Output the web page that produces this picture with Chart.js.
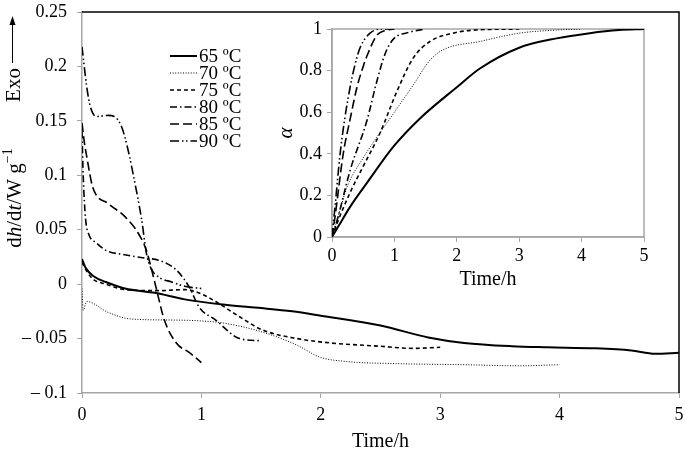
<!DOCTYPE html>
<html lang="en">
<head>
    <meta charset="UTF-8">
    <title>Heat flow and degree of hydration</title>
    <script src="https://cdn.jsdelivr.net/npm/chart.js@4.4.0/dist/chart.umd.min.js"></script>
    <style>
        body { margin: 0; background: #fff; }
        #wrap { position: relative; width: 685px; height: 455px; }
        #main { position: absolute; left: 0; top: 0; }
        #inset { position: absolute; left: 280px; top: 12px; }
    </style>
</head>
<body>
<div id="wrap">
    <canvas id="main" width="685" height="455"></canvas>
    <canvas id="inset" width="400" height="280"></canvas>
</div>
<script>
// series names
const temps = ['65 ºC', '70 ºC', '75 ºC', '80 ºC', '85 ºC', '90 ºC'];

// heat flow (main plot): time in h, dh/dt in W/g
const t65 = [0, 0.03, 0.1, 0.2, 0.36, 0.61, 0.86, 1.2, 1.5, 1.76, 2.0, 2.5, 2.9, 3.2, 3.6, 3.9, 4.3, 4.6, 4.8, 5.0];
const q65 = [0.023, 0.015, 0.007, 0.002, -0.004, -0.008, -0.014, -0.019, -0.022, -0.025, -0.029, -0.038, -0.049, -0.054, -0.057, -0.058, -0.059, -0.061, -0.064, -0.063];
const t70 = [0, 0.01, 0.04, 0.22, 0.41, 0.78, 1.03, 1.2, 1.51, 1.8, 1.99, 2.21, 2.63, 3.19, 3.67, 4.0];
const q70 = [-0.004, -0.024, -0.016, -0.026, -0.032, -0.033, -0.034, -0.036, -0.044, -0.056, -0.067, -0.071, -0.073, -0.074, -0.075, -0.074];
const t75 = [0, 0.05, 0.1, 0.2, 0.36, 0.64, 0.86, 1.0, 1.12, 1.32, 1.51, 1.8, 2.08, 2.49, 2.77, 3.0];
const q75 = [0.02, 0.01, 0.004, 0.0, -0.005, -0.006, -0.005, -0.009, -0.016, -0.03, -0.042, -0.05, -0.054, -0.057, -0.059, -0.058];
const t80 = [0, 0.01, 0.03, 0.06, 0.12, 0.2, 0.36, 0.52, 0.64, 0.79, 0.9, 0.98, 1.12, 1.32, 1.5];
const q80 = [0.14, 0.1, 0.06, 0.045, 0.038, 0.031, 0.027, 0.024, 0.022, 0.013, -0.003, -0.021, -0.033, -0.05, -0.052];
const t85 = [0, 0.02, 0.04, 0.09, 0.22, 0.36, 0.47, 0.54, 0.57, 0.62, 0.69, 0.79, 0.9, 1.0];
const q85 = [0.148, 0.13, 0.117, 0.089, 0.074, 0.062, 0.047, 0.031, 0.019, -0.003, -0.033, -0.054, -0.063, -0.072];
const t90 = [0, 0.04, 0.07, 0.12, 0.22, 0.27, 0.33, 0.38, 0.45, 0.5, 0.54, 0.58, 0.65, 0.75, 0.86, 1.0];
const q90 = [0.218, 0.181, 0.163, 0.154, 0.155, 0.154, 0.145, 0.126, 0.089, 0.059, 0.028, 0.014, 0.006, 0.002, -0.002, -0.004];

// degree of hydration (inset): time in h, alpha
const ta65 = [0, 0.1, 0.29, 0.56, 1.0, 1.41, 2.0, 2.37, 3.0, 3.6, 4.13, 4.6, 5.0];
const a65 = [0, 0.05, 0.145, 0.26, 0.44, 0.57, 0.72, 0.81, 0.91, 0.955, 0.98, 0.995, 1.0];
const ta70 = [0, 0.1, 0.24, 0.5, 1.0, 1.3, 1.57, 1.78, 2.37, 3.0, 3.6, 4.0];
const a70 = [0, 0.1, 0.24, 0.38, 0.6, 0.73, 0.85, 0.9, 0.94, 0.98, 0.995, 1.0];
const ta75 = [0, 0.1, 0.3, 0.5, 0.77, 1.04, 1.3, 1.57, 1.94, 2.3, 3.0];
const a75 = [0, 0.08, 0.22, 0.34, 0.5, 0.7, 0.86, 0.94, 0.98, 0.995, 1.0];
const ta80 = [0, 0.1, 0.29, 0.56, 0.72, 0.85, 0.98, 1.25, 1.5];
const a80 = [0, 0.1, 0.32, 0.56, 0.75, 0.88, 0.95, 0.985, 1.0];
const ta85 = [0, 0.05, 0.18, 0.3, 0.4, 0.5, 0.56, 0.72, 0.9, 1.0];
const a85 = [0, 0.1, 0.4, 0.58, 0.72, 0.82, 0.87, 0.97, 0.995, 1.0];
const ta90 = [0, 0.05, 0.13, 0.2, 0.29, 0.37, 0.45, 0.61, 0.8, 1.0];
const a90 = [0, 0.15, 0.4, 0.56, 0.72, 0.83, 0.91, 0.98, 1.0, 1.0];

// tick labels
const xTicks = [0, 1, 2, 3, 4, 5];
const yTicks = [-0.1, -0.05, 0, 0.05, 0.1, 0.15, 0.2, 0.25];
const yTickLabels = ['\u2013 0.1', '\u2013 0.05', '0', '0.05', '0.1', '0.15', '0.2', '0.25'];
const aTicks = [0, 0.2, 0.4, 0.6, 0.8, 1];
const aTickLabels = ['0', '0.2', '0.4', '0.6', '0.8', '1'];

// line styles, one per temperature
const dashes = [[], [1, 1.6], [4, 3], [7, 3, 1.5, 3], [9, 4], [9, 3, 1.5, 2.5, 1.5, 3]];
const widths = [2, 1, 1.6, 1.6, 1.6, 1.6];

const serif = "'Liberation Serif', 'Times New Roman', serif";
const grey = '#a6a6a6';

function pts(xs, ys) {
    return xs.map((x, i) => ({ x: x, y: ys[i] }));
}

function makeSets(pairs) {
    return pairs.map((p, i) => ({
        label: temps[i],
        data: pts(p[0], p[1]),
        borderColor: '#000',
        borderWidth: widths[i],
        borderDash: dashes[i],
        pointRadius: 0,
        fill: false,
        cubicInterpolationMode: 'monotone'
    }));
}

// keep the plot area where we put it, whatever the labels want
function noPad(s) {
    s.paddingLeft = 0;
    s.paddingRight = 0;
    s.paddingTop = 0;
    s.paddingBottom = 0;
}

function axisX(height, pad, title, titlePad) {
    return {
        type: 'linear', min: 0, max: 5,
        afterBuildTicks: s => { s.ticks = xTicks.map(v => ({ value: v })); },
        ticks: { color: '#000', font: { family: serif, size: 18 }, padding: pad, maxRotation: 0 },
        grid: { drawOnChartArea: false, tickLength: 5, color: grey },
        border: { color: grey, width: 1.5 },
        title: { display: true, text: title, color: '#000', font: { family: serif, size: 20 }, padding: { top: 0, bottom: titlePad } },
        afterFit: s => { s.height = height; noPad(s); }
    };
}

function axisY(vals, labels, min, max, width, pad) {
    return {
        type: 'linear', min: min, max: max,
        afterBuildTicks: s => { s.ticks = vals.map(v => ({ value: v })); },
        ticks: { color: '#000', font: { family: serif, size: 18 }, padding: pad, callback: (v, i) => labels[i] },
        grid: { drawOnChartArea: false, tickLength: 5, color: grey },
        border: { color: grey, width: 1.5 },
        afterFit: s => { s.width = width; noPad(s); }
    };
}

// main chart extras: frame, y title, legend
const mainExtras = {
    id: 'mainExtras',
    beforeDraw(chart) {
        const ctx = chart.ctx;
        ctx.save();
        ctx.fillStyle = '#fff';
        ctx.fillRect(0, 0, chart.width, chart.height);
        ctx.restore();
    },
    afterDraw(chart) {
        const ctx = chart.ctx;
        const a = chart.chartArea;
        ctx.save();
        // black top and right edges
        ctx.strokeStyle = '#000';
        ctx.lineWidth = 1.5;
        ctx.beginPath();
        ctx.moveTo(a.left, a.top);
        ctx.lineTo(a.right, a.top);
        ctx.lineTo(a.right, a.bottom);
        ctx.stroke();

        // y title: dh/dt/W g-1 with Exo arrow
        ctx.fillStyle = '#000';
        ctx.textBaseline = 'middle';
        const parts = [
            { s: 'd', f: '21px ' + serif },
            { s: 'h', f: 'italic 21px ' + serif },
            { s: '/d', f: '21px ' + serif },
            { s: 't', f: 'italic 21px ' + serif },
            { s: '/W g', f: '21px ' + serif },
            { s: '\u22121', f: '14px ' + serif, up: 7 }
        ];
        let total = 0;
        parts.forEach(p => { ctx.font = p.f; p.w = ctx.measureText(p.s).width; total += p.w; });
        ctx.translate(15, 198);
        ctx.rotate(-Math.PI / 2);
        let x = -total / 2;
        ctx.textAlign = 'left';
        parts.forEach(p => {
            ctx.font = p.f;
            ctx.fillText(p.s, x, -(p.up || 0));
            x += p.w;
        });
        ctx.setTransform(1, 0, 0, 1, 0, 0);

        ctx.translate(14, 85);
        ctx.rotate(-Math.PI / 2);
        ctx.font = '21px ' + serif;
        ctx.textAlign = 'center';
        ctx.fillText('Exo', 0, 0);
        ctx.setTransform(1, 0, 0, 1, 0, 0);

        ctx.lineWidth = 1;
        ctx.beginPath();
        ctx.moveTo(12.5, 63);
        ctx.lineTo(12.5, 22);
        ctx.stroke();
        ctx.beginPath();
        ctx.moveTo(12.5, 16);
        ctx.lineTo(9.5, 25);
        ctx.lineTo(15.5, 25);
        ctx.closePath();
        ctx.fill();

        // legend
        ctx.font = '19px ' + serif;
        ctx.textAlign = 'left';
        ctx.textBaseline = 'middle';
        chart.data.datasets.forEach((ds, i) => {
            const y = 56 + i * 17;
            ctx.strokeStyle = '#000';
            ctx.lineWidth = ds.borderWidth;
            ctx.setLineDash(ds.borderDash);
            ctx.beginPath();
            ctx.moveTo(170, y);
            ctx.lineTo(197, y);
            ctx.stroke();
            ctx.setLineDash([]);
            ctx.fillText(ds.label, 199, y + 1);
        });
        ctx.restore();
    }
};

// inset extras: grey plot box and alpha title (canvas is transparent)
const insetExtras = {
    id: 'insetExtras',
    beforeDatasetsDraw(chart) {
        const ctx = chart.ctx;
        const a = chart.chartArea;
        ctx.save();
        ctx.strokeStyle = grey;
        ctx.lineWidth = 1.5;
        ctx.strokeRect(a.left, a.top, a.right - a.left, a.bottom - a.top);
        ctx.restore();
    },
    afterDraw(chart) {
        const ctx = chart.ctx;
        const a = chart.chartArea;
        ctx.save();
        ctx.fillStyle = '#000';
        ctx.font = 'italic 21px ' + serif;
        ctx.textAlign = 'center';
        ctx.textBaseline = 'middle';
        ctx.translate(6, (a.top + a.bottom) / 2);
        ctx.rotate(-Math.PI / 2);
        ctx.fillText('\u03b1', 0, 0);
        ctx.restore();
    }
};

new Chart(document.getElementById('main').getContext('2d'), {
    type: 'line',
    data: {
        datasets: makeSets([[t65, q65], [t70, q70], [t75, q75], [t80, q80], [t85, q85], [t90, q90]])
    },
    options: {
        responsive: false,
        animation: false,
        devicePixelRatio: 1,
        layout: { padding: { top: 12, right: 6, left: 0, bottom: 0 } },
        plugins: { legend: { display: false }, tooltip: { enabled: false } },
        scales: {
            x: axisX(62, 6, 'Time/h', 1),
            y: axisY(yTicks, yTickLabels, -0.1, 0.25, 82, 10)
        }
    },
    plugins: [mainExtras]
});

new Chart(document.getElementById('inset').getContext('2d'), {
    type: 'line',
    data: {
        datasets: makeSets([[ta65, a65], [ta70, a70], [ta75, a75], [ta80, a80], [ta85, a85], [ta90, a90]])
    },
    options: {
        responsive: false,
        animation: false,
        devicePixelRatio: 1,
        layout: { padding: { top: 17, right: 36, left: 0, bottom: 0 } },
        plugins: { legend: { display: false }, tooltip: { enabled: false } },
        scales: {
            x: axisX(55, 3, 'Time/h', 0),
            y: axisY(aTicks, aTickLabels, 0, 1, 52, 5)
        }
    },
    plugins: [insetExtras]
});
</script>
</body>
</html>
